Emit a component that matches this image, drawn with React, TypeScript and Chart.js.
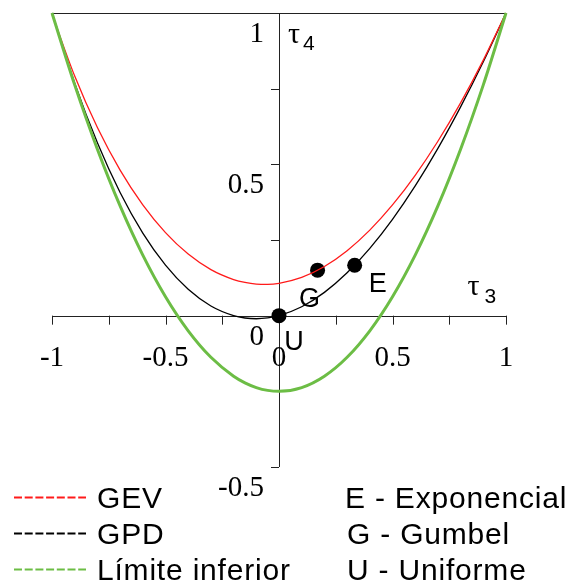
import { useEffect, useRef } from "react";
import { Chart, registerables } from "chart.js";

Chart.register(...registerables);

// L-skewness grid shared by the three theoretical curves
const tau3Grid = [
  -1, -0.9, -0.8, -0.7, -0.6, -0.5, -0.4, -0.3, -0.2, -0.15, -0.1, -0.05, 0,
  0.1, 0.2, 0.3, 0.4, 0.5, 0.6, 0.7, 0.8, 0.9, 1,
];

// L-kurtosis of each curve along tau3Grid
const lowerLimitTau4 = [
  1, 0.7625, 0.55, 0.3625, 0.2, 0.0625, -0.05, -0.1375, -0.2, -0.2219, -0.2375,
  -0.2469, -0.25, -0.2375, -0.2, -0.1375, -0.05, 0.0625, 0.2, 0.3625, 0.55,
  0.7625, 1,
];
const gevTau4 = [
  0.9966, 0.7916, 0.6214, 0.4808, 0.3661, 0.2743, 0.2034, 0.1521, 0.1193,
  0.1097, 0.1045, 0.1036, 0.107, 0.1265, 0.1626, 0.2148, 0.2827, 0.3658,
  0.4638, 0.5762, 0.7029, 0.8443, 1,
];
const gpdTau4 = [
  1, 0.7683, 0.5714, 0.407, 0.2727, 0.1667, 0.087, 0.0319, 0, -0.0077, -0.0102,
  -0.0076, 0, 0.0294, 0.0769, 0.1415, 0.2222, 0.3182, 0.4286, 0.5526, 0.6897,
  0.839, 1,
];

// Two-parameter distributions marked on the diagram
const pointNames = ["E", "G", "U"];
const pointTau3 = [0.3333, 0.1699, 0];
const pointTau4 = [0.1667, 0.1504, 0];

// Axis ticks and labels
const xTicks = [-1, -0.75, -0.5, -0.25, 0, 0.25, 0.5, 0.75, 1];
const xTickLabels = [-1, -0.5, 0, 0.5, 1];
const yTicks = [-0.5, -0.25, 0, 0.25, 0.5, 0.75, 1];
const yTickLabels = [-0.5, 0, 0.5, 1];

// Legend text
const curveNames = ["GEV", "GPD", "Límite inferior"];
const pointLegend = ["E - Exponencial", "G - Gumbel", "U - Uniforme"];

const RED = "#ff1a1a";
const BLACK = "#000000";
const GREEN = "#6cbd45";
const curveColors = [RED, BLACK, GREEN];

const SERIF = '"Liberation Serif", "DejaVu Serif", serif';
const SANS = '"Liberation Sans", Arial, sans-serif';

const toXY = (ys: number[]) => tau3Grid.map((x, i) => ({ x, y: ys[i] }));

const diagramPlugin = {
  id: "lmomentDiagram",
  beforeDatasetsDraw(chart: any) {
    const { ctx } = chart;
    const sx = chart.scales.x;
    const sy = chart.scales.y;
    const x0 = sx.getPixelForValue(0);
    const y0 = sy.getPixelForValue(0);
    const xl = sx.getPixelForValue(-1);
    const xr = sx.getPixelForValue(1);
    const yt = sy.getPixelForValue(1);
    const yb = sy.getPixelForValue(-0.5);
    ctx.save();
    ctx.strokeStyle = "#222";
    ctx.lineWidth = 1;
    ctx.beginPath();
    // upper bound tau4 = 1
    ctx.moveTo(xl, Math.round(yt) + 0.5);
    ctx.lineTo(xr, Math.round(yt) + 0.5);
    // horizontal axis
    ctx.moveTo(xl, Math.round(y0) + 0.5);
    ctx.lineTo(xr, Math.round(y0) + 0.5);
    // vertical axis
    ctx.moveTo(Math.round(x0) + 0.5, yt);
    ctx.lineTo(Math.round(x0) + 0.5, yb);
    for (const t of xTicks) {
      const px = Math.round(sx.getPixelForValue(t)) + 0.5;
      ctx.moveTo(px, y0);
      ctx.lineTo(px, y0 + 9);
    }
    for (const t of yTicks) {
      const py = Math.round(sy.getPixelForValue(t)) + 0.5;
      ctx.moveTo(x0, py);
      ctx.lineTo(x0 - 8, py);
    }
    ctx.stroke();

    ctx.fillStyle = "#000";
    ctx.font = `29px ${SERIF}`;
    ctx.textBaseline = "alphabetic";
    ctx.textAlign = "center";
    for (const t of xTickLabels) {
      ctx.fillText(String(t), sx.getPixelForValue(t), y0 + 50);
    }
    ctx.textAlign = "right";
    for (const t of yTickLabels) {
      ctx.fillText(String(t), x0 - 15, sy.getPixelForValue(t) + 29);
    }
    ctx.restore();
  },
  afterDatasetsDraw(chart: any) {
    const { ctx } = chart;
    const sx = chart.scales.x;
    const sy = chart.scales.y;
    ctx.save();
    ctx.fillStyle = "#000";
    ctx.textBaseline = "alphabetic";

    // axis titles
    ctx.textAlign = "left";
    ctx.font = `30px ${SERIF}`;
    ctx.fillText("τ", sx.getPixelForValue(0) + 9, sy.getPixelForValue(1) + 30);
    ctx.font = `21px ${SANS}`;
    ctx.fillText("4", sx.getPixelForValue(0) + 24, sy.getPixelForValue(1) + 37);
    ctx.font = `30px ${SERIF}`;
    ctx.fillText("τ", sx.getPixelForValue(0.83), sy.getPixelForValue(0) - 21);
    ctx.font = `21px ${SANS}`;
    ctx.fillText("3", sx.getPixelForValue(0.83) + 17, sy.getPixelForValue(0) - 13);

    // point letters
    ctx.font = `27px ${SANS}`;
    ctx.textAlign = "center";
    const offsets = [
      [23, 27],
      [-8, 37],
      [15, 34],
    ];
    pointNames.forEach((n, i) => {
      const px = sx.getPixelForValue(pointTau3[i]) + offsets[i][0];
      const py = sy.getPixelForValue(pointTau4[i]) + offsets[i][1];
      ctx.fillText(n, px, py);
    });

    // legend
    const baselines = [508, 544, 580];
    ctx.font = `30px ${SANS}`;
    ctx.textAlign = "left";
    (ctx as any).letterSpacing = "0.8px";
    curveNames.forEach((name, i) => {
      ctx.save();
      ctx.strokeStyle = curveColors[i];
      ctx.lineWidth = 2;
      ctx.setLineDash([8, 2.7]);
      ctx.beginPath();
      ctx.moveTo(14, baselines[i] - 10.5);
      ctx.lineTo(86, baselines[i] - 10.5);
      ctx.stroke();
      ctx.restore();
      ctx.fillText(name, 97, baselines[i]);
    });
    pointLegend.forEach((t, i) => {
      ctx.fillText(t, i === 0 ? 345 : 347, baselines[i]);
    });
    ctx.restore();
  },
};

export default function App() {
  const canvasRef = useRef<HTMLCanvasElement | null>(null);

  useEffect(() => {
    if (!canvasRef.current) return;
    const chart = new Chart(canvasRef.current, {
      type: "scatter",
      data: {
        datasets: [
          {
            label: "Límite inferior",
            data: toXY(lowerLimitTau4),
            showLine: true,
            borderColor: GREEN,
            borderWidth: 3,
            pointRadius: 0,
            cubicInterpolationMode: "monotone",
            clip: false,
          },
          {
            label: "GEV",
            data: toXY(gevTau4),
            showLine: true,
            borderColor: RED,
            borderWidth: 1.3,
            pointRadius: 0,
            cubicInterpolationMode: "monotone",
            clip: false,
          },
          {
            label: "GPD",
            data: toXY(gpdTau4),
            showLine: true,
            borderColor: BLACK,
            borderWidth: 1.3,
            pointRadius: 0,
            cubicInterpolationMode: "monotone",
            clip: false,
          },
          {
            label: "Distribuciones",
            data: pointTau3.map((x, i) => ({ x, y: pointTau4[i] })),
            backgroundColor: BLACK,
            borderColor: BLACK,
            pointRadius: 7.5,
            borderWidth: 0,
            clip: false,
          },
        ],
      } as any,
      options: {
        responsive: false,
        animation: false,
        devicePixelRatio: 1,
        layout: { padding: { left: 52, right: 63, top: 13, bottom: 121 } },
        plugins: { legend: { display: false }, tooltip: { enabled: false } },
        scales: {
          x: { type: "linear", min: -1, max: 1, display: false },
          y: { type: "linear", min: -0.5, max: 1, display: false },
        },
      } as any,
      plugins: [diagramPlugin],
    });
    return () => chart.destroy();
  }, []);

  return (
    <div style={{ position: "absolute", left: 0, top: 0, width: 569, height: 588, background: "#fff" }}>
      <canvas ref={canvasRef} width={569} height={588} />
    </div>
  );
}
